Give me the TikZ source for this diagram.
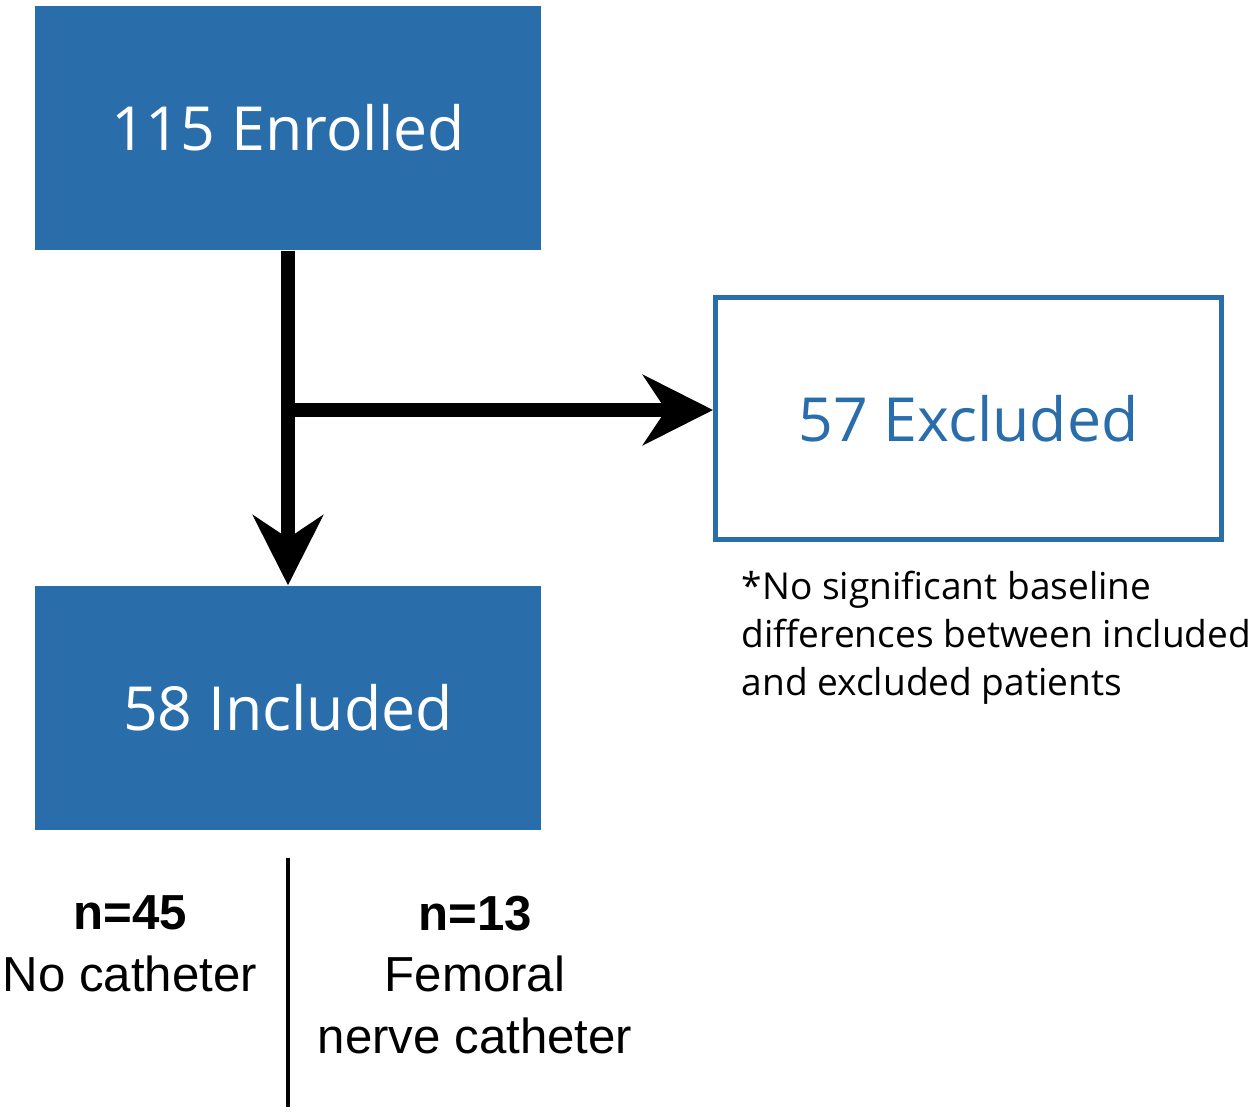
\documentclass[tikz,border=0pt]{standalone}
\usepackage{fontspec}
\setmainfont{Open Sans}
\newfontfamily\armfont{Liberation Sans}
\usetikzlibrary{arrows.meta}
\definecolor{boxblue}{RGB}{42,109,171}

\begin{document}
\begin{tikzpicture}[
    scale=1,
    fillbox/.style={fill=boxblue, text=white, minimum width=5.06cm, minimum height=2.44cm, inner sep=0pt, font=\fontsize{17.3}{21}\selectfont},
    outbox/.style={draw=boxblue, line width=1.4pt, text=boxblue, minimum width=5.06cm, minimum height=2.42cm, inner sep=0pt, font=\fontsize{17.3}{21}\selectfont},
    flow/.style={line width=4pt, -{Stealth[length=7mm, width=7mm, inset=2.3mm]}},
    note/.style={align=left, inner sep=0pt, font=\fontsize{10.55}{13.7}\selectfont},
    group/.style={align=center, inner sep=0pt, font=\armfont\fontsize{14}{17.6}\selectfont}
]
\useasboundingbox (0,0) rectangle (12.54,11.13);

\node[fillbox] (enrolled) at (2.88,9.85) {115 Enrolled};
\node[outbox] (excluded) at (9.685,6.945) {57 Excluded};
\node[fillbox] (included) at (2.88,4.05) {58 Included};
\coordinate (split) at (2.88,7.03);

\draw[flow] (enrolled.south) -- (included.north);
\draw[flow] (split) -- (split -| excluded.west);

\node[note, anchor=north west] (footnote) at (7.41,5.43) {*No significant baseline\\differences between included\\and excluded patients};

% catheter groups
\coordinate (divtop) at (2.88,2.55);
\coordinate (divbot) at (2.88,0.06);
\draw[line width=1.3pt] (divtop) -- (divbot);
\node[group] (nocath) at (1.30,1.69) {\textbf{n=45}\\No catheter};
\node[group] (femoral) at (4.75,1.38) {\textbf{n=13}\\Femoral\\nerve catheter};

\end{tikzpicture}
\end{document}
